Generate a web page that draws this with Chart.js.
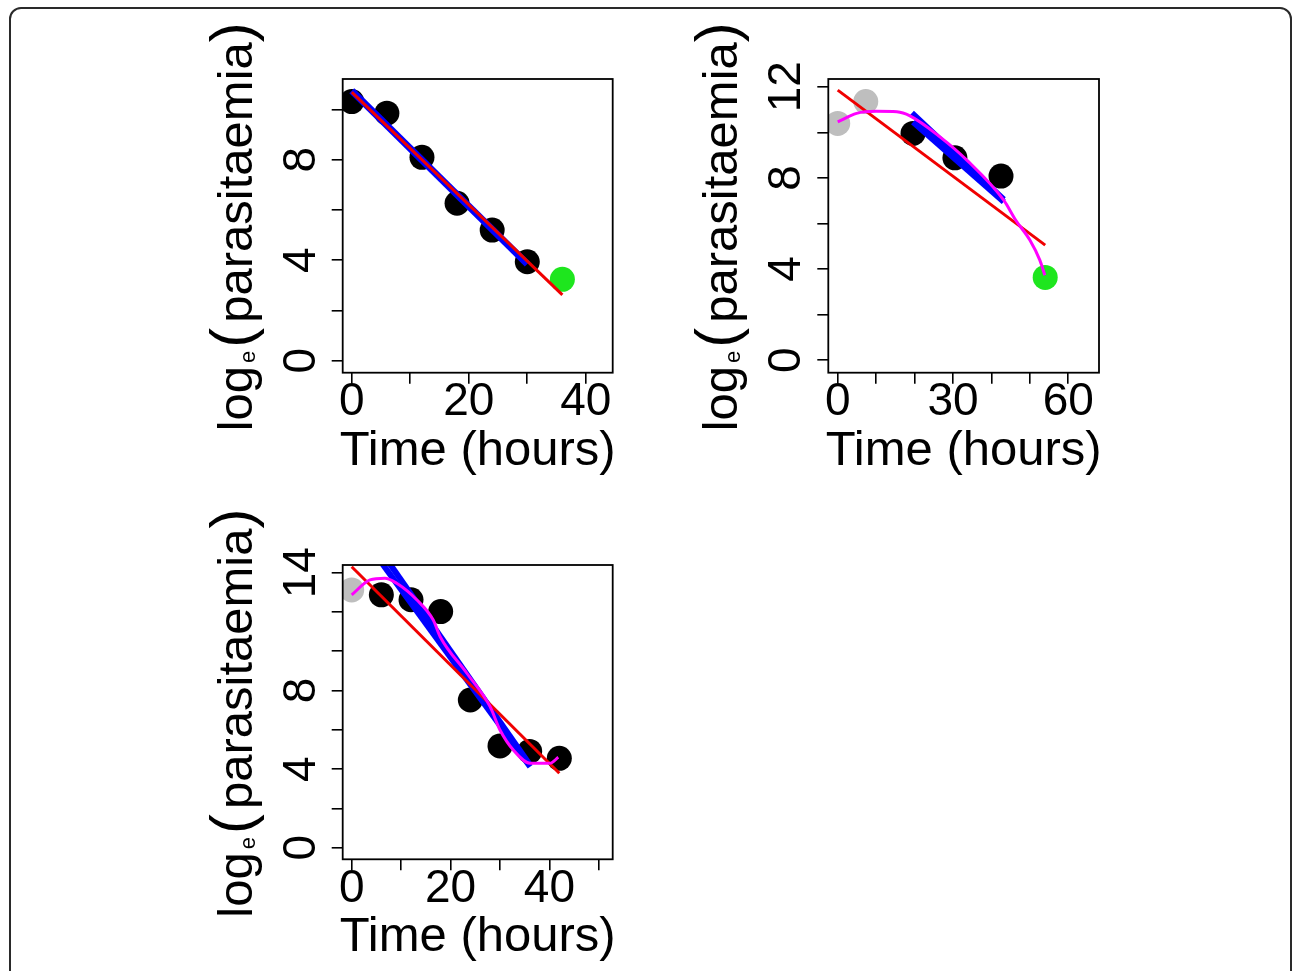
<!DOCTYPE html>
<html>
<head>
<meta charset="utf-8">
<script src="https://cdn.jsdelivr.net/npm/chart.js@4.4.0/dist/chart.umd.min.js"></script>
<style>
	html, body { margin: 0; padding: 0; background: #fff; }
	body { width: 1292px; height: 971px; position: relative; overflow: hidden; }
	.frame {
		position: absolute; left: 9px; top: 7px; width: 1283px; height: 1000px;
		border: 2px solid #2a2a2a; border-radius: 12px; box-sizing: border-box;
	}
	canvas { position: absolute; }
</style>
</head>
<body>
<div class="frame"></div>
<canvas id="panelA" width="440" height="480" style="left:190px;top:10px"></canvas>
<canvas id="panelB" width="440" height="480" style="left:676px;top:10px"></canvas>
<canvas id="panelC" width="440" height="475" style="left:190px;top:496px"></canvas>

<script>
// --- panel A (top left) ---
const timeA = [0, 6, 12, 18, 24, 30];
const paraA = [10.32, 9.86, 8.1, 6.27, 5.2, 3.94];
const greenTimeA = [36];
const greenParaA = [3.24];
const redTimeA = [0, 36];
const redParaA = [10.7, 2.62];
const blueTimeA = [0, 30];
const blueParaA = [10.75, 3.85];
const xTicksA = [0, 10, 20, 30, 40];
const xLabelsA = [0, 20, 40];
const yTicksA = [0, 2, 4, 6, 8, 10];
const yLabelsA = [0, 4, 8];

// --- panel B (top right) ---
const grayTimeB = [0, 7.3];
const grayParaB = [10.39, 11.35];
const timeB = [19.6, 30.5, 42.5];
const paraB = [9.95, 8.88, 8.08];
const greenTimeB = [54];
const greenParaB = [3.63];
const redTimeB = [0, 54];
const redParaB = [11.85, 5.05];
const blue1TimeB = [19.3, 43.2];
const blue1ParaB = [10.85, 7.05];
const blue2TimeB = [19.6, 43.2];
const blue2ParaB = [10.45, 6.95];
const magTimeB = [0, 4.9, 10, 15.4, 18.8, 26.6, 33.6, 43.2, 46.3, 50, 52.6, 53.9];
const magParaB = [10.46, 10.83, 10.92, 10.9, 10.72, 9.8, 8.78, 7.02, 6.15, 5.27, 4.39, 3.73];
const xTicksB = [0, 10, 20, 30, 40, 50, 60];
const xLabelsB = [0, 30, 60];
const yTicksB = [0, 2, 4, 6, 8, 10, 12];
const yLabelsB = [0, 4, 8, 12];

// --- panel C (bottom left) ---
const grayTimeC = [0];
const grayParaC = [13.12];
const timeC = [6, 12, 18, 24, 30, 36, 42];
const paraC = [12.87, 12.62, 12.02, 7.52, 5.18, 4.9, 4.55];
const redTimeC = [0, 42];
const redParaC = [14.3, 3.79];
const blue1TimeC = [6.2, 36.1];
const blue1ParaC = [14.45, 4.12];
const blue2TimeC = [7.7, 36.1];
const blue2ParaC = [14.45, 4.2];
const magTimeC = [0, 3.7, 6.7, 9.1, 13.2, 16.5, 17.9, 23.3, 28, 30, 32.7, 36.1, 40.1, 41.8];
const magParaC = [12.87, 13.63, 13.72, 13.46, 12.61, 11.59, 10.74, 8.88, 7.18, 5.99, 4.97, 4.3, 4.3, 4.6];
const xTicksC = [0, 10, 20, 30, 40, 50];
const xLabelsC = [0, 20, 40];
const yTicksC = [0, 2, 4, 6, 8, 10, 12, 14];
const yLabelsC = [0, 4, 8, 14];

const FONT = '"Liberation Sans", Arial, Helvetica, sans-serif';
const GRAY = "#bebebe";
const GREEN = "#1ee61e";
const RED = "#f00000";
const BLUE = "#0000ff";
const MAGENTA = "#ff00ff";

const pts = (t, v) => t.map((x, i) => ({ x: x, y: v[i] }));

function dots(t, v, color) {
	return {
		data: pts(t, v), showLine: false, order: 4,
		pointRadius: 12.5, pointBackgroundColor: color, pointBorderWidth: 0,
	};
}

function fitLine(t, v, color, width, order, smooth) {
	const ds = {
		data: pts(t, v), showLine: true, order: order,
		pointRadius: 0, borderColor: color, borderWidth: width,
		borderCapStyle: "butt", borderJoinStyle: "round", tension: 0,
	};
	if (smooth) ds.cubicInterpolationMode = "monotone";
	return ds;
}

// rotated piece of text, reading upward; returns its advance
function upText(ctx, str, x, y, size) {
	ctx.save();
	ctx.font = size + "px " + FONT;
	ctx.translate(x, y);
	ctx.rotate(-Math.PI / 2);
	ctx.textAlign = "left";
	ctx.textBaseline = "alphabetic";
	ctx.fillText(str, 0, 0);
	const w = ctx.measureText(str).width;
	ctx.restore();
	return w;
}

const axisText = {
	id: "axisText",
	afterDraw(chart, args, opts) {
		const { ctx, chartArea: a } = chart;
		const x = chart.scales.x, y = chart.scales.y;
		ctx.save();
		ctx.fillStyle = "#000";
		ctx.strokeStyle = "#000";
		ctx.lineWidth = 1.8;
		ctx.strokeRect(a.left, a.top, a.right - a.left, a.bottom - a.top);

		// x tick labels
		ctx.font = "46px " + FONT;
		ctx.textAlign = "center";
		ctx.textBaseline = "alphabetic";
		opts.xLabels.forEach((v) => ctx.fillText(String(v), x.getPixelForValue(v), a.bottom + 42.5));

		// y tick labels, rotated like R las=0
		opts.yLabels.forEach((v) => {
			ctx.save();
			ctx.translate(a.left - 28, y.getPixelForValue(v));
			ctx.rotate(-Math.PI / 2);
			ctx.fillText(String(v), 0, 0);
			ctx.restore();
		});

		// x title
		ctx.font = "49px " + FONT;
		ctx.fillText("Time (hours)", (a.left + a.right) / 2, a.bottom + 92);

		// y title: log_e(parasitaemia)
		const bx = a.left - 91;
		let py = (a.top + a.bottom) / 2 + 205.5;
		py -= upText(ctx, "log", bx, py, 49) + 3;
		py -= upText(ctx, "e", bx + 3, py, 22) + 3;
		py -= upText(ctx, "(", bx, py, 60) + 5;
		py -= upText(ctx, "parasitaemia", bx, py, 49);
		upText(ctx, ")", bx, py, 60);
		ctx.restore();
	},
};

function makePanel(id, pad, xRange, yRange, xTicks, yTicks, xLabels, yLabels, datasets) {
	const tickGrid = {
		display: true, drawOnChartArea: false, drawTicks: true,
		tickLength: 11, color: "#000", lineWidth: 1.6,
	};
	new Chart(document.getElementById(id), {
		type: "scatter",
		data: { datasets: datasets },
		plugins: [axisText],
		options: {
			responsive: false,
			animation: false,
			devicePixelRatio: 1,
			events: [],
			layout: { padding: pad },
			plugins: {
				legend: { display: false },
				tooltip: { enabled: false },
				axisText: { xLabels: xLabels, yLabels: yLabels },
			},
			scales: {
				x: {
					type: "linear", min: xRange[0], max: xRange[1],
					grid: tickGrid, border: { display: false },
					ticks: { display: false },
					afterBuildTicks: (s) => { s.ticks = xTicks.map((v) => ({ value: v })); },
					afterFit: (s) => { s.height = 0; },
				},
				y: {
					type: "linear", min: yRange[0], max: yRange[1],
					grid: tickGrid, border: { display: false },
					ticks: { display: false },
					afterBuildTicks: (s) => { s.ticks = yTicks.map((v) => ({ value: v })); },
					afterFit: (s) => { s.width = 0; },
				},
			},
		},
	});
}

makePanel("panelA",
	{ left: 152.7, top: 69, right: 17.3, bottom: 117.3 },
	[-1.55, 44.6], [-0.48, 11.22], xTicksA, yTicksA, xLabelsA, yLabelsA,
	[
		dots(timeA, paraA, "#000"),
		dots(greenTimeA, greenParaA, GREEN),
		fitLine(blueTimeA, blueParaA, BLUE, 7, 3),
		fitLine(redTimeA, redParaA, RED, 3, 1),
	]);

makePanel("panelB",
	{ left: 152.3, top: 69, right: 17, bottom: 117.3 },
	[-2.45, 68], [-0.55, 12.34], xTicksB, yTicksB, xLabelsB, yLabelsB,
	[
		dots(grayTimeB, grayParaB, GRAY),
		dots(timeB, paraB, "#000"),
		dots(greenTimeB, greenParaB, GREEN),
		fitLine(blue1TimeB, blue1ParaB, BLUE, 6, 3),
		fitLine(blue2TimeB, blue2ParaB, BLUE, 6, 3),
		fitLine(redTimeB, redParaB, RED, 3, 2),
		fitLine(magTimeB, magParaB, MAGENTA, 3, 1, true),
	]);

makePanel("panelC",
	{ left: 152.7, top: 69, right: 17.3, bottom: 111.7 },
	[-1.82, 52.8], [-0.59, 14.39], xTicksC, yTicksC, xLabelsC, yLabelsC,
	[
		dots(grayTimeC, grayParaC, GRAY),
		dots(timeC, paraC, "#000"),
		fitLine(blue1TimeC, blue1ParaC, BLUE, 6, 3),
		fitLine(blue2TimeC, blue2ParaC, BLUE, 6, 3),
		fitLine(redTimeC, redParaC, RED, 3, 2),
		fitLine(magTimeC, magParaC, MAGENTA, 3, 1, true),
	]);
</script>
</body>
</html>
